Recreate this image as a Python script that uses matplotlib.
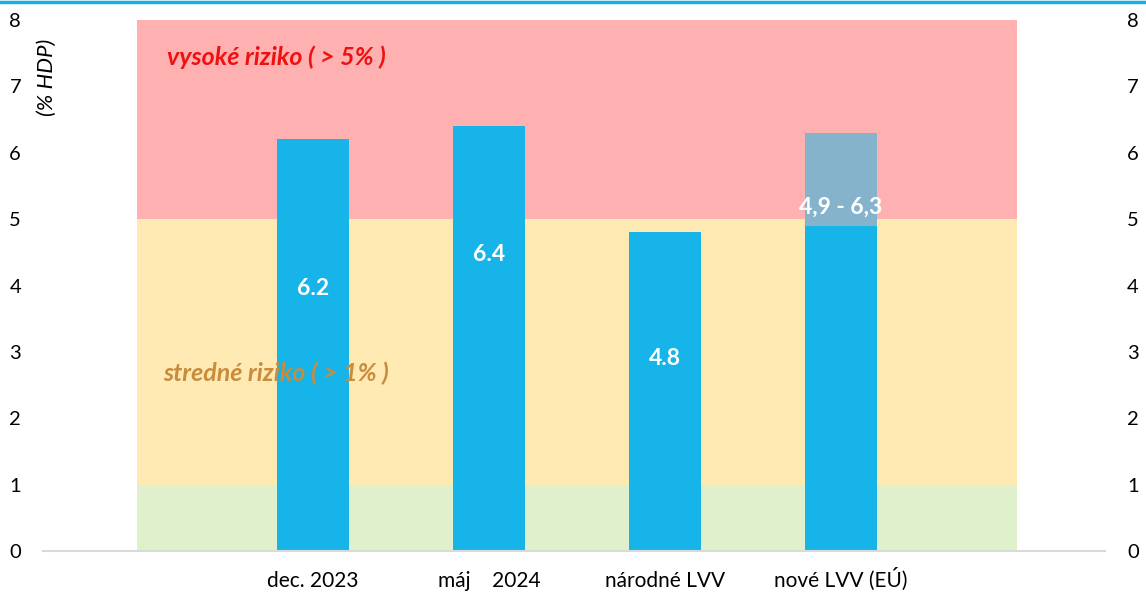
import matplotlib
matplotlib.use('Agg')
import matplotlib.pyplot as plt
from matplotlib.lines import Line2D

plt.rcParams['font.family'] = ['Lato', 'DejaVu Sans']

# data
categories = ["dec. 2023", "máj    2024", "národné LVV", "nové LVV (EÚ)"]
values = [6.2, 6.4, 4.8, 4.9]
range_extra = [0, 0, 0, 6.3 - 4.9]
value_labels = ["6.2", "6.4", "4.8", "4,9 - 6,3"]
label_y = [3.96, 4.46, 2.9, 5.18]

band_bottoms = [0, 1, 5]
band_heights = [1, 4, 3]
band_colors = ["#e0f0cc", "#ffeab4", "#ffb0b0"]

bar_color = "#16b4e8"
range_color = "#86b3cc"

fig = plt.figure(figsize=(11.46, 5.94), dpi=100)
ax = fig.add_axes([0.0375, 0.0724, 0.9267, 0.8939])

x = list(range(len(categories)))

# background risk zones
ax.bar([1.5] * 3, band_heights, bottom=band_bottoms, width=5,
       color=band_colors, linewidth=0, zorder=1)

ax.bar(x, values, width=0.41, color=bar_color, linewidth=0, zorder=2)
ax.bar(x, range_extra, bottom=values, width=0.41, color=range_color, linewidth=0, zorder=2)

for i, lab in enumerate(value_labels):
    ax.text(x[i], label_y[i], lab, ha='center', va='center', color='white',
            fontsize=16.5, fontweight='bold', zorder=4)

ax.text(-0.83, 7.44, "vysoké riziko ( > 5% )", color="#f01010", fontsize=18,
        fontweight='bold', style='italic', va='center', zorder=3)
ax.text(-0.85, 2.68, "stredné riziko ( > 1% )", color="#c88c3c", fontsize=18,
        fontweight='bold', style='italic', va='center', zorder=3)

ax.set_xlim(-1.535, 4.5)
ax.set_ylim(0, 8)
ax.set_yticks(range(0, 9))
ax.set_xticks(x)
ax.set_xticklabels(categories, fontsize=15)
for t in ax.get_xticklabels():
    t.set_verticalalignment('baseline')
ax.tick_params(axis='x', length=0, pad=26)
ax.tick_params(axis='y', labelsize=14.5, length=0, labelright=True, pad=20)
ax.tick_params(axis='y', which='major', right=False)
for s in ['top', 'right', 'left']:
    ax.spines[s].set_visible(False)
ax.spines['bottom'].set_color('#d9d9d9')
ax.spines['bottom'].set_linewidth(1.5)
ax.spines['bottom'].set_zorder(5)
for t in ax.get_yticklabels():
    t.set_horizontalalignment('center')
for t in ax.yaxis.get_ticklabels(which='major'):
    pass
for tick in ax.yaxis.get_major_ticks():
    tick.label2.set_horizontalalignment('center')
    tick.set_pad(20)

fig.text(0.041, 0.869, "(% HDP)", rotation=90, style='italic', fontsize=16,
         ha='center', va='center')

# top border line
fig.add_artist(Line2D([0, 1], [0.997, 0.997], color="#1aaee6", linewidth=2.5,
                      transform=fig.transFigure))

fig.savefig("out.png", dpi=100)
